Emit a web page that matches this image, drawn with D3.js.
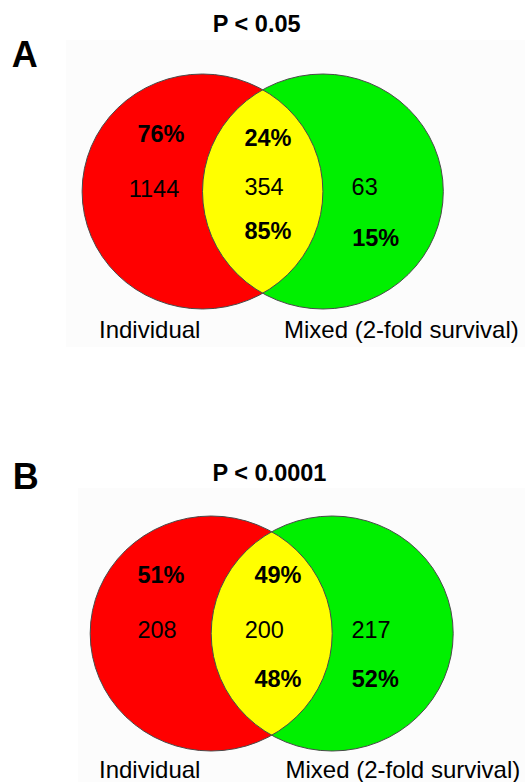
<!DOCTYPE html>
<html>
<head>
<meta charset="utf-8">
<script src="https://cdn.jsdelivr.net/npm/d3@7"></script>
<style>
  html, body { margin: 0; padding: 0; background: #fff; }
  svg { display: block; font-family: Arial, "Liberation Sans", sans-serif; }
</style>
</head>
<body>
<div id="chart"></div>
<script>
const width = 525,
  height = 782;

// panel data
const panelNames = ["A", "B"];
const pValues = ["P < 0.05", "P < 0.0001"];
const setNames = ["Individual", "Mixed (2-fold survival)"];
// counts: only Individual, both, only Mixed
const countsA = [1144, 354, 63];
const countsB = [208, 200, 217];
// share of Individual set: only, overlap
const pctIndividualA = [76, 24];
const pctIndividualB = [51, 49];
// share of Mixed set: overlap, only
const pctMixedA = [85, 15];
const pctMixedB = [48, 52];

const colors = { individual: "#ff0000", mixed: "#00f000", both: "#ffff00" };

// layout for each panel (pixels)
const layouts = [
  { cx: 262.7, cy: 191.5, ux: 120.4, uy: 117.5, box: [66, 40, 459, 307],
    letter: [11.7, 67.3], title: [256.7, 31.7], names: [[99, 337.7], [284, 337.7]],
    counts: [[-0.903, 0.044], [0.011, 0.03], [0.847, 0.03]],
    pctI: [[-0.845, -0.424], [0.044, -0.387]],
    pctM: [[0.044, 0.407], [0.939, 0.464]] },
  { cx: 271.7, cy: 633.5, ux: 121, uy: 117.5, box: [78, 488, 447, 294],
    letter: [12.7, 489.3], title: [269.5, 481], names: [[99, 778.3], [285.5, 778.3]],
    counts: [[-0.948, 0.036], [-0.061, 0.036], [0.821, 0.036]],
    pctI: [[-0.915, -0.427], [0.052, -0.427]],
    pctM: [[0.052, 0.453], [0.856, 0.453]] },
];

const panels = [
  { counts: countsA, pctI: pctIndividualA, pctM: pctMixedA },
  { counts: countsB, pctI: pctIndividualB, pctM: pctMixedB },
];

const svg = d3
  .select("#chart")
  .append("svg")
  .attr("width", width)
  .attr("height", height);

panels.forEach((p, i) => {
  const L = layouts[i];
  const x = d3.scaleLinear().domain([0, 1]).range([L.cx, L.cx + L.ux]);
  const y = d3.scaleLinear().domain([0, 1]).range([L.cy, L.cy + L.uy]);
  const g = svg.append("g").attr("class", "panel");

  // faint backdrop of the scanned figure
  g.append("rect")
    .attr("x", L.box[0])
    .attr("y", L.box[1])
    .attr("width", L.box[2])
    .attr("height", L.box[3])
    .attr("fill", "#fcfcfc");

  const circles = [
    { c: -0.5, fill: colors.individual },
    { c: 0.5, fill: colors.mixed },
  ];
  const rx = x(1) - x(0),
    ry = y(1) - y(0);

  const clipId = "clip" + i;
  g.append("clipPath")
    .attr("id", clipId)
    .append("ellipse")
    .attr("cx", x(-0.5))
    .attr("cy", y(0))
    .attr("rx", rx)
    .attr("ry", ry);

  g.selectAll("ellipse.set")
    .data(circles)
    .enter()
    .append("ellipse")
    .attr("class", "set")
    .attr("cx", (d) => x(d.c))
    .attr("cy", y(0))
    .attr("rx", rx)
    .attr("ry", ry)
    .attr("fill", (d) => d.fill);

  // overlap
  g.append("ellipse")
    .attr("cx", x(0.5))
    .attr("cy", y(0))
    .attr("rx", rx)
    .attr("ry", ry)
    .attr("fill", colors.both)
    .attr("clip-path", `url(#${clipId})`);

  // outlines
  g.selectAll("ellipse.outline")
    .data(circles)
    .enter()
    .append("ellipse")
    .attr("class", "outline")
    .attr("cx", (d) => x(d.c))
    .attr("cy", y(0))
    .attr("rx", rx)
    .attr("ry", ry)
    .attr("fill", "none")
    .attr("stroke", "#4a4a4a")
    .attr("stroke-width", 1);

  g.append("text")
    .text(panelNames[i])
    .attr("x", L.letter[0])
    .attr("y", L.letter[1])
    .attr("font-size", 36)
    .attr("font-weight", "bold");

  g.append("text")
    .text(pValues[i])
    .attr("x", L.title[0])
    .attr("y", L.title[1])
    .attr("text-anchor", "middle")
    .attr("font-size", 23.5)
    .attr("font-weight", "bold");

  g.selectAll("text.count")
    .data(p.counts)
    .enter()
    .append("text")
    .attr("class", "count")
    .text((d) => d)
    .attr("x", (d, j) => x(L.counts[j][0]))
    .attr("y", (d, j) => y(L.counts[j][1]))
    .attr("text-anchor", "middle")
    .attr("font-size", 23.5);

  const pcts = p.pctI
    .map((v, j) => ({ v, pos: L.pctI[j] }))
    .concat(p.pctM.map((v, j) => ({ v, pos: L.pctM[j] })));

  g.selectAll("text.pct")
    .data(pcts)
    .enter()
    .append("text")
    .attr("class", "pct")
    .text((d) => d.v + "%")
    .attr("x", (d) => x(d.pos[0]))
    .attr("y", (d) => y(d.pos[1]))
    .attr("text-anchor", "middle")
    .attr("font-size", 23.5)
    .attr("font-weight", "bold");

  g.selectAll("text.setname")
    .data(setNames)
    .enter()
    .append("text")
    .attr("class", "setname")
    .text((d) => d)
    .attr("x", (d, j) => L.names[j][0])
    .attr("y", (d, j) => L.names[j][1])
    .attr("font-size", 24);
});
</script>
</body>
</html>
